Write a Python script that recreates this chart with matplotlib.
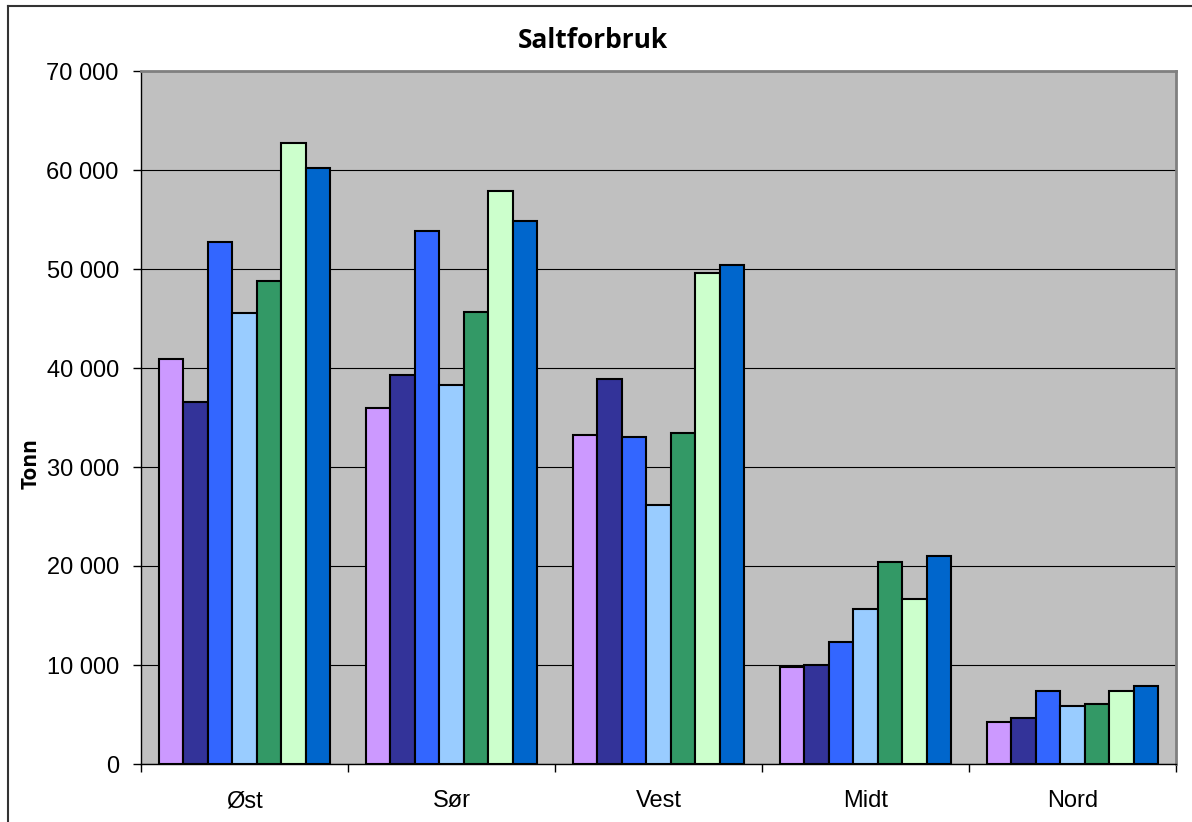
import matplotlib.pyplot as plt
import matplotlib.ticker as ticker
from matplotlib.lines import Line2D
import numpy as np

regions = ["Øst", "Sør", "Vest", "Midt", "Nord"]

# one list per series (seven series, no legend in the source)
s1 = [40900, 35950, 33250, 9780, 4280]
s2 = [36550, 39300, 38930, 9950, 4650]
s3 = [52750, 53850, 33080, 12340, 7420]
s4 = [45600, 38270, 26150, 15680, 5870]
s5 = [48790, 45620, 33420, 20400, 6070]
s6 = [62750, 57850, 49560, 16630, 7420]
s7 = [60200, 54850, 50380, 21050, 7860]

series = [s1, s2, s3, s4, s5, s6, s7]
colors = ['#CC99FF', '#333399', '#3366FF', '#99CCFF', '#339966', '#CCFFCC', '#0066CC']

yticks = list(range(0, 70001, 10000))

fig = plt.figure(figsize=(11.92, 8.22), dpi=100)
ax = fig.add_axes([141 / 1192, 58 / 822, 1035 / 1192, 693 / 822])
ax.set_facecolor('#C0C0C0')

x = np.arange(len(regions))
group = 0.83
w = group / len(series)
for i, (vals, c) in enumerate(zip(series, colors)):
    offs = -group / 2 + w * (i + 0.5)
    ax.bar(x + offs, vals, width=w, color=c, edgecolor='black', linewidth=1.5, zorder=3)

ax.set_xlim(-0.5, len(regions) - 0.5)
ax.set_ylim(0, 70000)
ax.set_yticks(yticks)
ax.yaxis.set_major_formatter(ticker.FuncFormatter(lambda v, p: f"{int(v):,}".replace(",", " ")))
ax.grid(axis='y', color='black', linewidth=0.8, zorder=1)
ax.set_axisbelow(True)

# category boundaries as major ticks, names on minor ticks
ax.set_xticks(np.arange(-0.5, len(regions), 1.0))
ax.set_xticklabels([])
ax.set_xticks(x, minor=True)
ax.set_xticklabels(regions, minor=True)
ax.tick_params(axis='x', which='minor', length=0, pad=19, labelsize=17)
ax.tick_params(axis='x', which='major', length=6, width=1, direction='out')
ax.tick_params(axis='y', length=6, width=1, direction='out', pad=10, labelsize=17)
for lab in ax.get_yticklabels() + ax.get_xticklabels(minor=True):
    lab.set_fontfamily('Liberation Sans')

for side in ['top', 'right']:
    ax.spines[side].set_color('#808080')
    ax.spines[side].set_linewidth(2)
for side in ['left', 'bottom']:
    ax.spines[side].set_color('black')
    ax.spines[side].set_linewidth(1)

fig.text(593 / 1192, 1 - 40 / 822, "Saltforbruk", ha='center', va='center',
         fontsize=19, fontweight='bold', fontfamily='Open Sans')
fig.text(31 / 1192, 1 - 464 / 822, "Tonn", ha='center', va='center', rotation=90,
         fontsize=15, fontweight='bold', fontfamily='Open Sans')

# outer chart border (left and top edges visible)
fig.add_artist(Line2D([8 / 1192, 8 / 1192], [0, 1 - 6 / 822], color='#333333', linewidth=1.5))
fig.add_artist(Line2D([8 / 1192, 1], [1 - 6 / 822, 1 - 6 / 822], color='#333333', linewidth=1.5))

fig.savefig('out.png', dpi=100)
plt.close(fig)
